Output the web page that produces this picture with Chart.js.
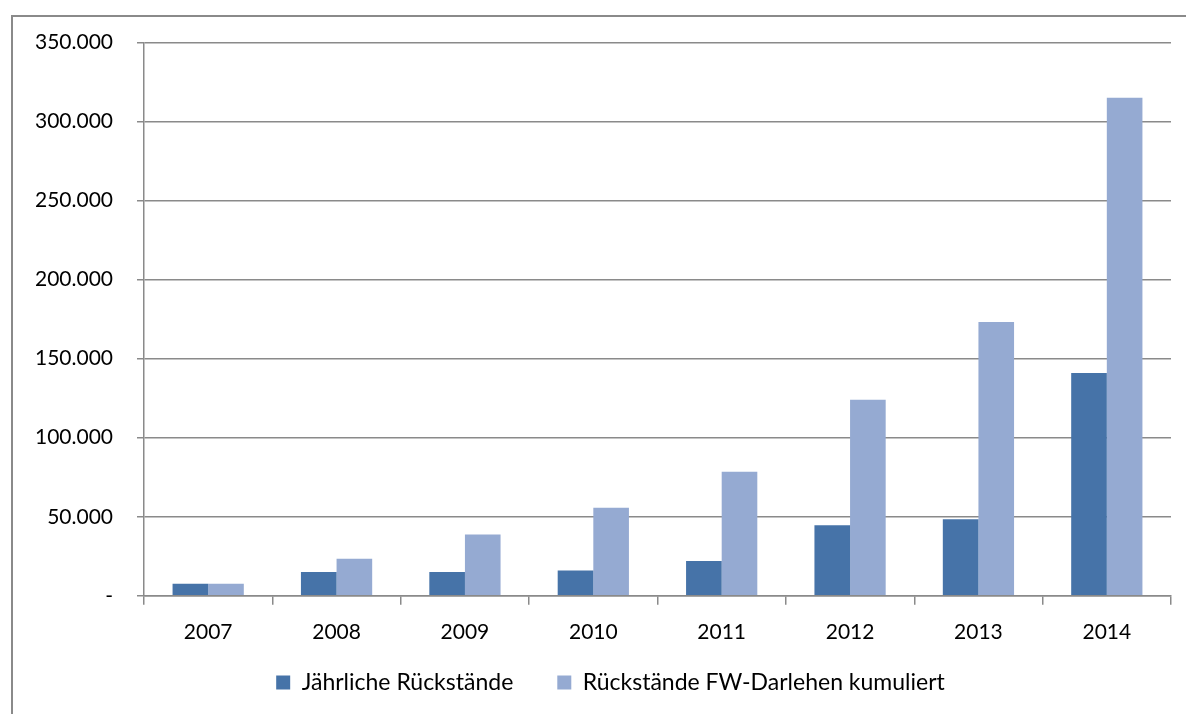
<!DOCTYPE html>
<html>
<head>
<meta charset="utf-8">
<script src="https://cdn.jsdelivr.net/npm/chart.js@4.4.0/dist/chart.umd.min.js"></script>
<style>
    html, body { margin: 0; padding: 0; background: #fff; overflow: hidden; }
    #frame { position: absolute; left: 11px; top: 15px; width: 1300px; height: 800px; border: 2px solid #8a8a8a; }
    #wrap { position: absolute; left: 0; top: 0; width: 1186px; height: 714px; }
</style>
</head>
<body>
<div id="frame"></div>
<div id="wrap"><canvas id="chart"></canvas></div>
<script>
// Values
const years = ['2007', '2008', '2009', '2010', '2011', '2012', '2013', '2014'];
const annualArrears = [7600, 15000, 15000, 16000, 22000, 44700, 48500, 141000];
const cumulativeArrears = [7600, 23400, 38800, 55700, 78500, 124000, 173200, 315000];
const seriesNames = ['Jährliche Rückstände', 'Rückstände FW-Darlehen kumuliert'];
const yTicks = [0, 50000, 100000, 150000, 200000, 250000, 300000, 350000];

// German thousands separator, zero shown as a dash
function formatTick(value) {
    if (value === 0) return '-';
    return String(value).replace(/\B(?=(\d{3})+(?!\d))/g, '.');
}

Chart.defaults.font.family = 'Lato';
Chart.defaults.font.size = 21;
Chart.defaults.color = '#000';

const gridColor = '#8a8a8a';

// Legend sits a bit right of centre and close under the year labels, like in Excel
const legendPlacer = {
    id: 'legendPlacer',
    afterLayout(chart) {
        const lg = chart.legend;
        lg.left += 10;
        lg.right += 10;
        const h = lg.bottom - lg.top;
        lg.top = 627;
        lg.bottom = lg.top + h;
    }
};

const ctx = document.getElementById('chart').getContext('2d');
window.arrearsChart = new Chart(ctx, {
    type: 'bar',
    data: {
        labels: years,
        datasets: [{
            label: seriesNames[0],
            data: annualArrears,
            backgroundColor: '#4673a8',
            categoryPercentage: 0.555,
            barPercentage: 1.0
        }, {
            label: seriesNames[1],
            data: cumulativeArrears,
            backgroundColor: '#95aad2',
            categoryPercentage: 0.555,
            barPercentage: 1.0
        }]
    },
    options: {
        responsive: true,
        maintainAspectRatio: false,
        animation: false,
        layout: {
            padding: { left: 30, right: 15, top: 42.5, bottom: -23 }
        },
        scales: {
            x: {
                grid: {
                    drawOnChartArea: false,
                    drawTicks: true,
                    tickLength: 9,
                    color: gridColor,
                    lineWidth: 1.5
                },
                border: { color: gridColor, width: 1.5 },
                ticks: { padding: 15 }
            },
            y: {
                min: 0,
                max: 350000,
                afterBuildTicks: function(scale) {
                    scale.ticks = yTicks.map(v => ({ value: v }));
                },
                afterFit: function(scale) {
                    scale.width = 114;
                },
                grid: {
                    color: gridColor,
                    lineWidth: 1.5,
                    tickLength: 7
                },
                border: { color: gridColor, width: 1.5 },
                ticks: {
                    padding: 24,
                    callback: formatTick
                }
            }
        },
        plugins: {
            legend: {
                position: 'bottom',
                labels: {
                    boxWidth: 14,
                    boxHeight: 14,
                    padding: 44,
                    font: { size: 23 }
                }
            },
            tooltip: { enabled: false }
        }
    },
    plugins: [legendPlacer]
});
</script>
</body>
</html>
